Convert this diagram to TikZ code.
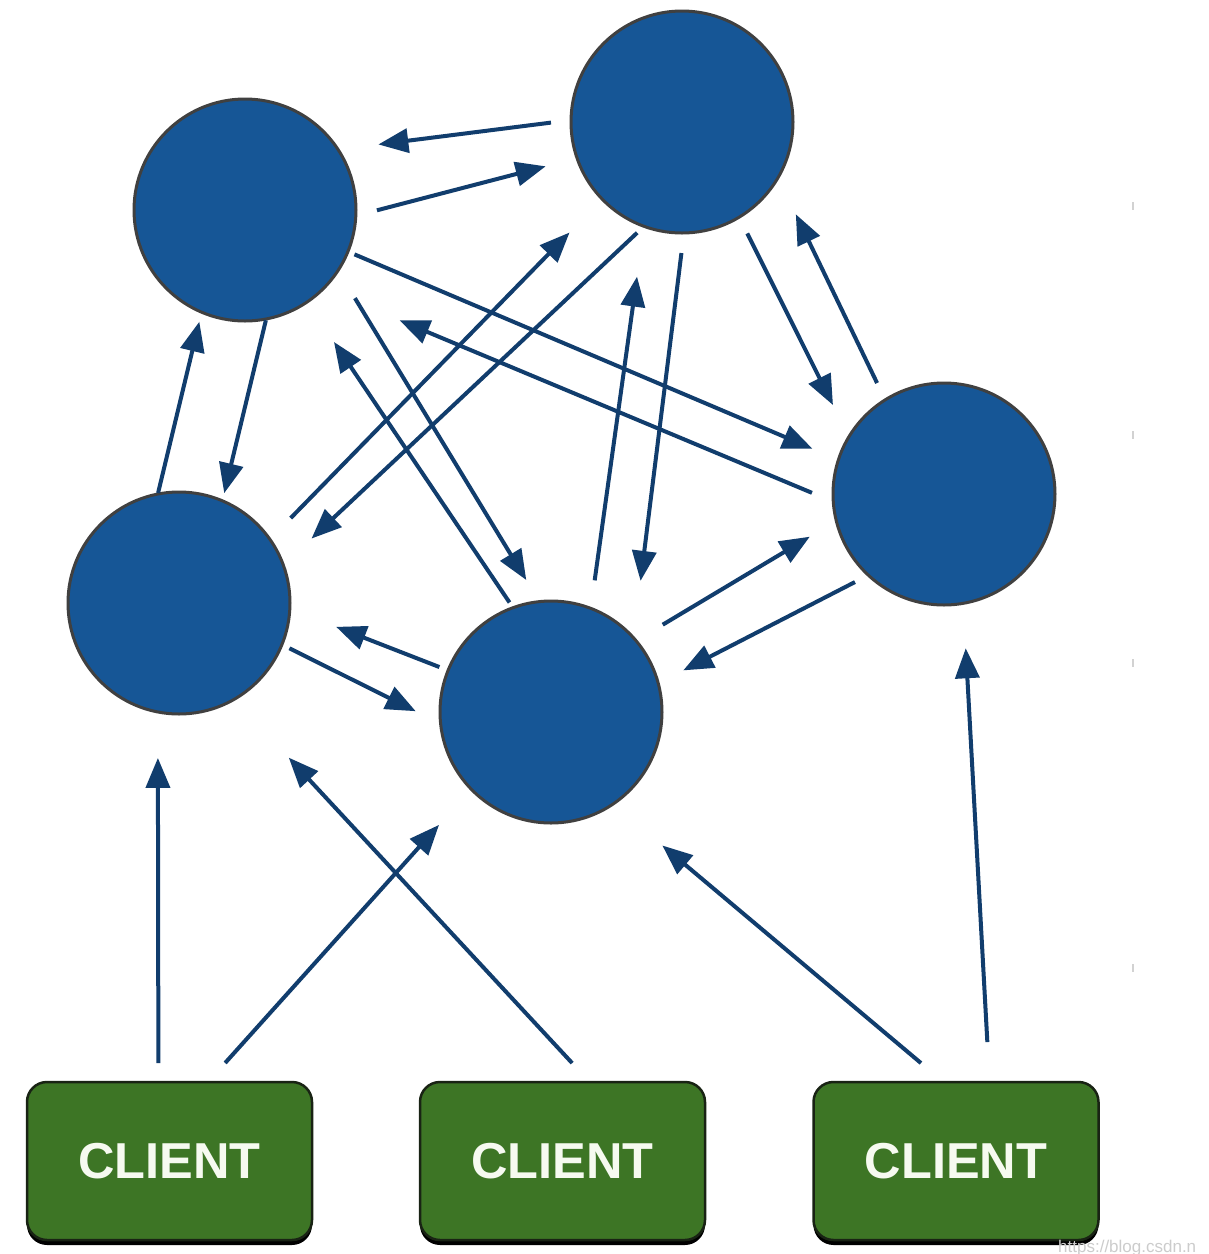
\documentclass[tikz,border=0pt]{standalone}
\usepackage{fontspec}
\newfontfamily\clientfont{Liberation Sans}
\usetikzlibrary{arrows.meta,shadows}
\definecolor{circfill}{RGB}{22,86,150}
\definecolor{circdraw}{RGB}{64,64,64}
\definecolor{arrowcol}{RGB}{17,61,109}
\definecolor{boxfill}{RGB}{61,117,37}
\definecolor{boxdraw}{RGB}{25,35,20}
\definecolor{clienttext}{RGB}{246,250,240}
\begin{document}
\begin{tikzpicture}[x=1pt,y=-1pt,
  srv/.style={circle,fill=circfill,draw=circdraw,line width=3pt,minimum size=222pt,inner sep=0pt,outer sep=0pt},
  cli/.style={rectangle,rounded corners=20pt,fill=boxfill,draw=boxdraw,line width=2.5pt,
    minimum width=285pt,minimum height=158pt,inner sep=0pt,outer sep=0pt,text=clienttext,
    font=\clientfont\bfseries\fontsize{50.5}{50.5}\selectfont,
    drop shadow={shadow xshift=0pt,shadow yshift=-5pt,fill=black,opacity=1}},
  arr/.style={draw=arrowcol,line width=4pt,-{Triangle[length=30pt,width=24pt]}},
  tickmark/.style={rectangle,fill=gray!35,minimum width=2pt,minimum height=8pt,inner sep=0pt}]
\useasboundingbox (0,0) rectangle (1209,1254);
\fill[white] (0,0) rectangle (1209,1254);

\node[srv] (A) at (245,210) {};
\node[srv] (B) at (682,122) {};
\node[srv] (C) at (944,494) {};
\node[srv] (D) at (179,603) {};
\node[srv] (E) at (551,712) {};

\node[cli] (c1) at (169.5,1161) {CLIENT};
\node[cli] (c2) at (562.5,1161) {CLIENT};
\node[cli] (c3) at (956,1161) {CLIENT};

% server to server
\draw[arr,shorten <=20.2pt,shorten >=40.6pt] (B.179.3) -- (A.33.4);
\draw[arr,shorten <=21.8pt,shorten >=32.4pt] (A.357.2) -- (B.199.5);
\draw[arr,shorten <=7.1pt,shorten >=28.3pt] (A.338.8) -- (C.162.8);
\draw[arr,shorten <=23.1pt,shorten >=82.5pt] (C.184.1) -- (A.315.3);
\draw[arr,shorten <=1.3pt,shorten >=7.9pt] (A.281.6) -- (D.67.2);
\draw[arr,shorten <=1.1pt,shorten >=9.8pt] (D.101.1) -- (A.247.4);
\draw[arr,shorten <=29.7pt,shorten >=46.7pt] (D.35.8) -- (B.224.5);
\draw[arr,shorten <=9.4pt,shorten >=38.7pt] (B.250.5) -- (D.20.9);
\draw[arr,shorten <=32.4pt,shorten >=25.3pt] (A.327.1) -- (E.96.2);
\draw[arr,shorten <=6.3pt,shorten >=48.2pt] (E.110.8) -- (A.304.1);
\draw[arr,shorten <=28.3pt,shorten >=50.8pt] (E.69.5) -- (B.250.7);
\draw[arr,shorten <=20.2pt,shorten >=57.3pt] (B.271.3) -- (E.42.6);
\draw[arr,shorten <=18.2pt,shorten >=35.6pt] (B.301.4) -- (C.149.0);
\draw[arr,shorten <=18.7pt,shorten >=40.8pt] (C.122.0) -- (B.330.2);
\draw[arr,shorten <=31.1pt,shorten >=30.9pt] (E.40.7) -- (C.194.9);
\draw[arr,shorten <=15.0pt,shorten >=28.2pt] (C.227.0) -- (E.15.8);
\draw[arr,shorten <=8.4pt,shorten >=27.8pt] (D.338.8) -- (E.186.6);
\draw[arr,shorten <=9.3pt,shorten >=49.7pt] (E.158.6) -- (D.357.8);

% clients to servers
\draw[arr,shorten <=19pt,shorten >=46pt] (c1.98.3) -- (D.259.1);
\draw[arr,shorten <=25.6pt,shorten >=48.1pt] (c1.64.7) -- (E.224.1);
\draw[arr,shorten <=25.8pt,shorten >=79.8pt] (c2.71.8) -- (D.300.9);
\draw[arr,shorten <=29.4pt,shorten >=64.4pt] (c3.99.0) -- (E.304.5);
\draw[arr,shorten <=40pt,shorten >=45pt] (c3.67.3) -- (C.280.7);

% faint marks
\node[tickmark] (t1) at (1133,206) {};
\node[tickmark] (t2) at (1133,435) {};
\node[tickmark] (t3) at (1133,663) {};
\node[tickmark] (t4) at (1133,968) {};
\node[anchor=base west,text=gray!40,inner sep=0pt,font=\clientfont\fontsize{17}{17}\selectfont] (wm) at (1058,1252) {https://blog.csdn.n};
\end{tikzpicture}
\end{document}
